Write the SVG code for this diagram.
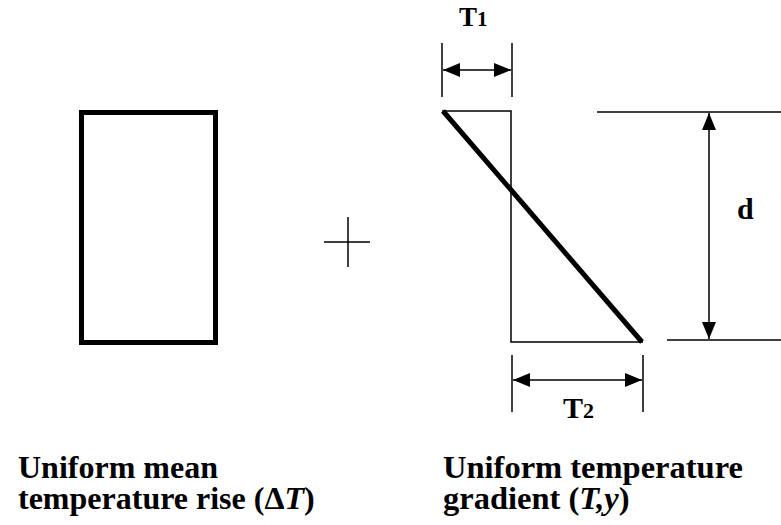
<svg xmlns="http://www.w3.org/2000/svg" width="781" height="525" viewBox="0 0 781 525">
<style>
.thin{stroke:#000;stroke-width:1.5;fill:none}
.lbl{font-family:"Liberation Serif","Times New Roman",serif;font-weight:bold;fill:#000}
</style>
<defs>
<marker id="ah" viewBox="0 0 17 14" refX="17" refY="7" markerWidth="17" markerHeight="14" markerUnits="userSpaceOnUse" orient="auto-start-reverse">
<path d="M0,0 L17,7 L0,14 z" fill="#000"/>
</marker>
</defs>
<rect width="781" height="525" fill="#fff"/>
<g id="section">
<rect x="81.5" y="112.5" width="134" height="230" fill="none" stroke="#000" stroke-width="5"/>
</g>
<g id="plus">
<line class="thin" x1="348" y1="217" x2="348" y2="267"/>
<line class="thin" x1="324" y1="242" x2="370" y2="242"/>
</g>
<g id="gradient">
<polyline class="thin" points="442,111 511,111 511,342 643,342"/>
<line x1="443" y1="111" x2="642" y2="342" stroke="#000" stroke-width="5"/>
</g>
<g id="connectors">
<line class="thin" x1="442" y1="43" x2="442" y2="97"/>
<line class="thin" x1="512" y1="43" x2="512" y2="97"/>
<line class="thin" x1="443" y1="70" x2="511" y2="70" marker-start="url(#ah)" marker-end="url(#ah)"/>
<line class="thin" x1="597" y1="112" x2="781" y2="112"/>
<line class="thin" x1="667" y1="340" x2="781" y2="340"/>
<line class="thin" x1="709" y1="113" x2="709" y2="339" marker-start="url(#ah)" marker-end="url(#ah)"/>
<line class="thin" x1="512" y1="355" x2="512" y2="412"/>
<line class="thin" x1="643" y1="355" x2="643" y2="412"/>
<line class="thin" x1="513" y1="380" x2="642" y2="380" marker-start="url(#ah)" marker-end="url(#ah)"/>
</g>
<g id="labels">
<text class="lbl" x="459" y="26" font-size="27">T<tspan font-size="21">1</tspan></text>
<text class="lbl" x="737" y="219" font-size="30">d</text>
<text class="lbl" x="563" y="418" font-size="30">T<tspan font-size="22">2</tspan></text>
<text class="lbl" font-size="32"><tspan x="18" y="478">Uniform mean</tspan><tspan x="18" y="509">temperature rise (Δ<tspan font-style="italic">T</tspan>)</tspan></text>
<text class="lbl" font-size="32.5"><tspan x="443" y="478">Uniform temperature</tspan><tspan x="443" y="509">gradient (<tspan font-style="italic">T,y</tspan>)</tspan></text>
</g>
</svg>
